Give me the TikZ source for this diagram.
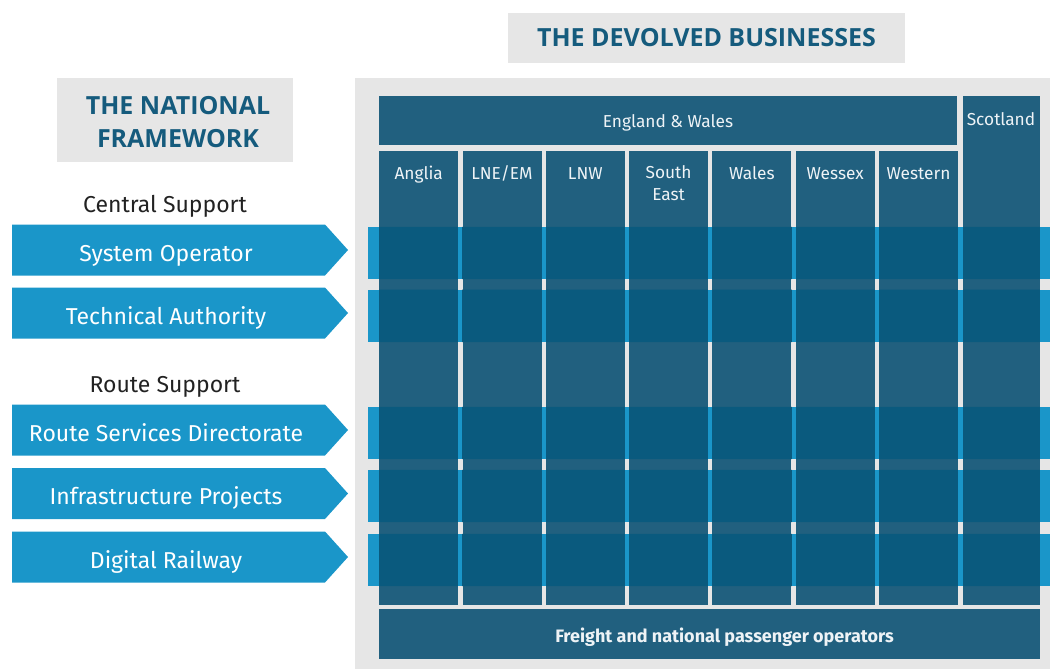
\documentclass[tikz,border=0pt]{standalone}
\usepackage{fontspec}
\setmainfont{Fira Sans}
\newfontfamily\titlefont{Open Sans}
\definecolor{panelgray}{HTML}{E6E6E6}
\definecolor{titleteal}{HTML}{155B7D}
\definecolor{colteal}{HTML}{21607F}
\definecolor{bandblue}{HTML}{1A96C9}
\definecolor{overlapteal}{HTML}{0A5A7E}
\definecolor{headwhite}{HTML}{EEF3F6}
\definecolor{textdark}{HTML}{222222}
\begin{document}
\begin{tikzpicture}[x=1pt,y=-1pt,
  greybox/.style={fill=panelgray, inner sep=0pt},
  heading/.style={font=\titlefont\bfseries\fontsize{25}{32.7}\selectfont, text=titleteal, align=center},
  groupbox/.style={fill=colteal, inner sep=0pt, anchor=north west},
  colhead/.style={text=headwhite, font=\fontsize{17.3}{21.5}\selectfont, inner sep=0pt, align=center},
  bandbox/.style={fill=bandblue, inner sep=0pt, anchor=west, minimum width=682pt, minimum height=52pt},
  arrowlabel/.style={text=white, font=\fontsize{23}{27}\selectfont, inner sep=0pt, anchor=base},
  grouplabel/.style={text=textdark, font=\fontsize{23}{27}\selectfont, inner sep=0pt, anchor=base},
]
\useasboundingbox (0,0) rectangle (1050,669);

% title boxes
\node[greybox, minimum width=397pt, minimum height=50pt] (devolved) at (706.5,38) {};
\node[heading] (devolvedtxt) at (devolved.center) {THE DEVOLVED BUSINESSES};
\node[greybox, minimum width=236pt, minimum height=84pt] (national) at (175,120) {};
\node[heading] (nationaltxt) at (178,122) {THE NATIONAL\\FRAMEWORK};

% background panel of the devolved businesses
\node[greybox, anchor=north west, minimum width=695pt, minimum height=591pt] (panel) at (355,78) {};

% England & Wales, Scotland and the routes
\node[groupbox, minimum width=578pt, minimum height=49pt] (ew) at (379,96) {};
\node[groupbox, minimum width=77pt, minimum height=509pt] (scot) at (963,96) {};
\foreach \i in {1,...,7}{
  \node[groupbox, minimum width=79pt, minimum height=454pt] (col\i) at ({379+83.3*(\i-1)},151) {};
}
\node[groupbox, minimum width=661pt, minimum height=50pt] (freight) at (379,609) {};

% support bands running across the routes
\foreach \i/\y in {1/253,2/315.8,3/433,4/496,5/560}{
  \node[bandbox] (band\i) at (368,\y) {};
}
\begin{scope}
  \clip (band1.north west) rectangle (band1.south east)
        (band2.north west) rectangle (band2.south east)
        (band3.north west) rectangle (band3.south east)
        (band4.north west) rectangle (band4.south east)
        (band5.north west) rectangle (band5.south east);
  \foreach \n in {col1,col2,col3,col4,col5,col6,col7,scot}{
    \fill[overlapteal] (\n.north west) rectangle (\n.south east);
  }
\end{scope}

% headings of the businesses
\node[colhead, anchor=base] (ewtxt) at (668,127) {England \& Wales};
\node[colhead, anchor=base] (scottxt) at (1001,125.5) {Scotland};
\foreach \i/\t in {1/Anglia,2/{LNE/EM},3/LNW,5/Wales,6/Wessex,7/Western}{
  \node[colhead, anchor=base] (h\i) at ([yshift=-28.5pt]col\i.north) {\t};
}
\node[colhead, anchor=north] (h4) at (h1.north -| col4.north) {South\\East};
\node[text=headwhite, font=\bfseries\fontsize{18}{22}\selectfont, inner sep=0pt, anchor=base] (freighttxt) at (724.5,642.5) {Freight and national passenger operators};

% national framework functions
\node[grouplabel] (central) at (165,212.5) {Central Support};
\node[grouplabel] (route) at (165,392) {Route Support};
\foreach \i/\y/\t in {1/250/System Operator,2/313/Technical Authority,3/430/Route Services Directorate,4/493.5/Infrastructure Projects,5/557/Digital Railway}{
  \fill[bandblue] (12,\y-25.5) -- (325,\y-25.5) -- (348,\y) -- (325,\y+25.5) -- (12,\y+25.5) -- cycle;
  \node[arrowlabel] (fn\i) at (166,\y+11) {\t};
}
\end{tikzpicture}
\end{document}
